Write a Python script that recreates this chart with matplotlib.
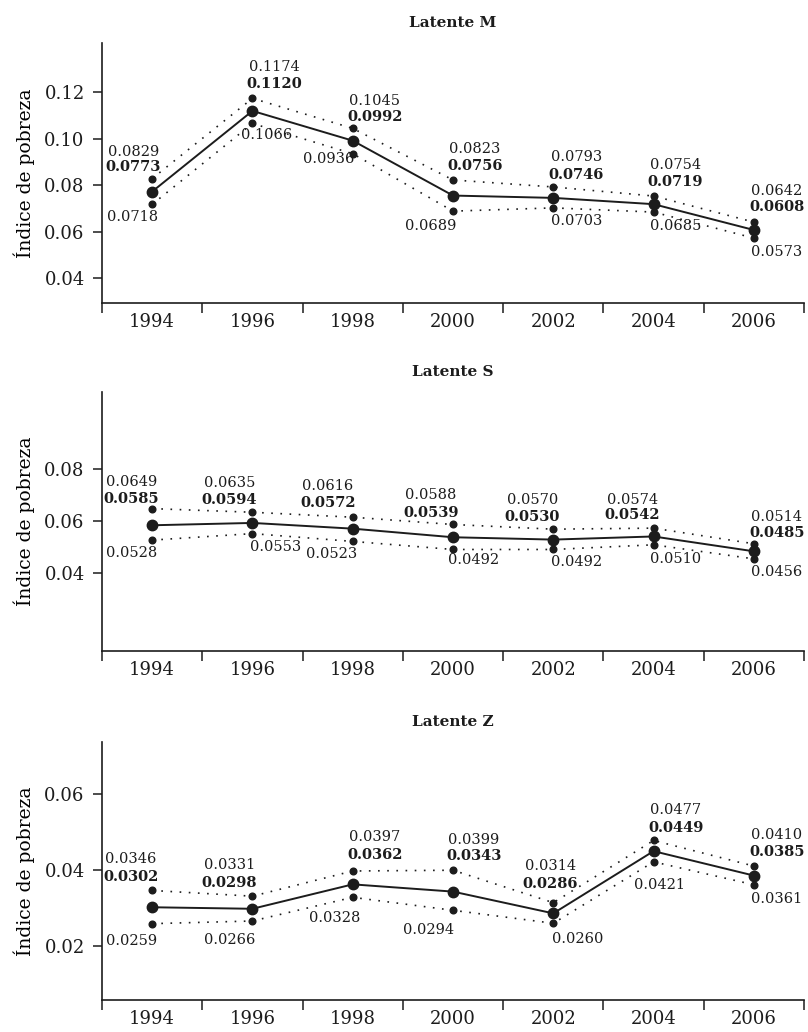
import numpy as np
import matplotlib
matplotlib.use("Agg")
import matplotlib.pyplot as plt
from matplotlib.ticker import FixedLocator, NullFormatter, FixedFormatter

plt.rcParams['font.family'] = ['DejaVu Serif']
plt.rcParams['text.color'] = '#1c1c1c'
plt.rcParams['axes.edgecolor'] = '#1c1c1c'
plt.rcParams['xtick.color'] = '#1c1c1c'
plt.rcParams['ytick.color'] = '#1c1c1c'

# Poverty index by latent class, with upper and lower bounds
years = [1994, 1996, 1998, 2000, 2002, 2004, 2006]

m_mean = [0.0773, 0.1120, 0.0992, 0.0756, 0.0746, 0.0719, 0.0608]
m_upper = [0.0829, 0.1174, 0.1045, 0.0823, 0.0793, 0.0754, 0.0642]
m_lower = [0.0718, 0.1066, 0.0936, 0.0689, 0.0703, 0.0685, 0.0573]

s_mean = [0.0585, 0.0594, 0.0572, 0.0539, 0.0530, 0.0542, 0.0485]
s_upper = [0.0649, 0.0635, 0.0616, 0.0588, 0.0570, 0.0574, 0.0514]
s_lower = [0.0528, 0.0553, 0.0523, 0.0492, 0.0492, 0.0510, 0.0456]

z_mean = [0.0302, 0.0298, 0.0362, 0.0343, 0.0286, 0.0449, 0.0385]
z_upper = [0.0346, 0.0331, 0.0397, 0.0399, 0.0314, 0.0477, 0.0410]
z_lower = [0.0259, 0.0266, 0.0328, 0.0294, 0.0260, 0.0421, 0.0361]

titles = ['Latente M', 'Latente S', 'Latente Z']
y_ticks = [[0.04, 0.06, 0.08, 0.10, 0.12], [0.04, 0.06, 0.08], [0.02, 0.04, 0.06]]
y_limits = [(0.0294, 0.1412), (0.0102, 0.1097), (0.0059, 0.0735)]

# label placement in pixels: (upper dx, upper dy, mean dy, lower dx, lower dy)
label_offsets = [
    dict(up_dx=[-19, 22, 22, 22, 23, 22, 23],
         up_dy=[-27, -31, -27, -31, -30, -31, -31],
         mid_dy=[-12, -14, -11, -14, -12, -14, -15],
         low_dx=[-20, 14, -24, -22, 23, 22, 23],
         low_dy=[13, 12, 5, 15, 13, 14, 14]),
    dict(up_dx=[-21, -23, -25, -22, -21, -21, 23],
         up_dy=[-27, -29, -31, -29, -29, -28, -27],
         mid_dy=[-10, -12, -14, -11, -12, -13, -11],
         low_dx=[-21, 23, -21, 21, 23, 22, 23],
         low_dy=[13, 13, 13, 11, 13, 14, 13]),
    dict(up_dx=[-21, -23, 22, 21, -3, 22, 23],
         up_dy=[-31, -31, -34, -30, -37, -30, -31],
         mid_dy=[-13, -13, -16, -14, -19, -12, -14],
         low_dx=[-21, -23, -18, -24, 24, 6, 23],
         low_dy=[17, 19, 21, 20, 16, 23, 14]),
]

series = [(m_mean, m_upper, m_lower), (s_mean, s_upper, s_lower), (z_mean, z_upper, z_lower)]

W, H = 808, 1032
fig = plt.figure(figsize=(W / 100, H / 100), dpi=100)
fig.patch.set_facecolor('white')

# axes boxes in pixels: (top, bottom)
boxes = [(43, 303), (392, 651), (742, 1000)]
left, right = 102, 804

ink = '#1c1c1c'
dotted = (0, (1, 4.5))
serif = ['DejaVu Serif']

for i, (top, bottom) in enumerate(boxes):
    ax = fig.add_axes([left / W, 1 - bottom / H, (right - left) / W, (bottom - top) / H])
    mean, upper, lower = series[i]
    offs = label_offsets[i]

    ax.plot(years, upper, color=ink, lw=1.2, linestyle=dotted, marker='o', ms=4.8,
            mec=ink, mfc=ink)
    ax.plot(years, lower, color=ink, lw=1.2, linestyle=dotted, marker='o', ms=4.8,
            mec=ink, mfc=ink)
    ax.plot(years, mean, color=ink, lw=1.4, marker='o', ms=7.5, mec=ink, mfc=ink)

    for j, yr in enumerate(years):
        ax.annotate(f'{upper[j]:.4f}', (yr, upper[j]), xytext=(offs['up_dx'][j], -offs['up_dy'][j]),
                    textcoords='offset pixels', ha='center', va='center', fontsize=10.5,
                    family=serif)
        ax.annotate(f'{mean[j]:.4f}', (yr, upper[j]), xytext=(offs['up_dx'][j], -offs['mid_dy'][j]),
                    textcoords='offset pixels', ha='center', va='center', fontsize=10.5,
                    fontweight='bold', family=serif)
        ax.annotate(f'{lower[j]:.4f}', (yr, lower[j]), xytext=(offs['low_dx'][j], -offs['low_dy'][j]),
                    textcoords='offset pixels', ha='center', va='center', fontsize=10.5,
                    family=serif)

    ax.set_xlim(1993, 2007)
    ax.set_ylim(*y_limits[i])
    ax.xaxis.set_major_locator(FixedLocator(np.arange(1993, 2008, 2)))
    ax.xaxis.set_major_formatter(NullFormatter())
    ax.xaxis.set_minor_locator(FixedLocator(years))
    ax.xaxis.set_minor_formatter(FixedFormatter([str(y) for y in years]))
    ax.tick_params(axis='x', which='major', direction='out', length=7.5, width=1.1)
    ax.tick_params(axis='x', which='minor', length=0, pad=7, labelsize=13)
    ax.set_yticks(y_ticks[i])
    ax.set_yticklabels([f'{t:.2f}' for t in y_ticks[i]])
    ax.tick_params(axis='y', direction='out', length=6.5, width=1.1, pad=6, labelsize=13)

    for side in ['top', 'right']:
        ax.spines[side].set_visible(False)
    for side in ['left', 'bottom']:
        ax.spines[side].set_linewidth(1.2)

    ax.set_ylabel('Índice de pobreza', fontsize=13.5, family=serif)
    ax.yaxis.set_label_coords((35 - left) / (right - left), 0.5)

    ax.annotate(titles[i], (0.5, 1.0), xycoords='axes fraction', xytext=(0, 20),
                textcoords='offset pixels', ha='center', va='center', fontsize=11,
                fontweight='bold', family=serif)

fig.savefig('out.png', dpi=100, facecolor='white')
